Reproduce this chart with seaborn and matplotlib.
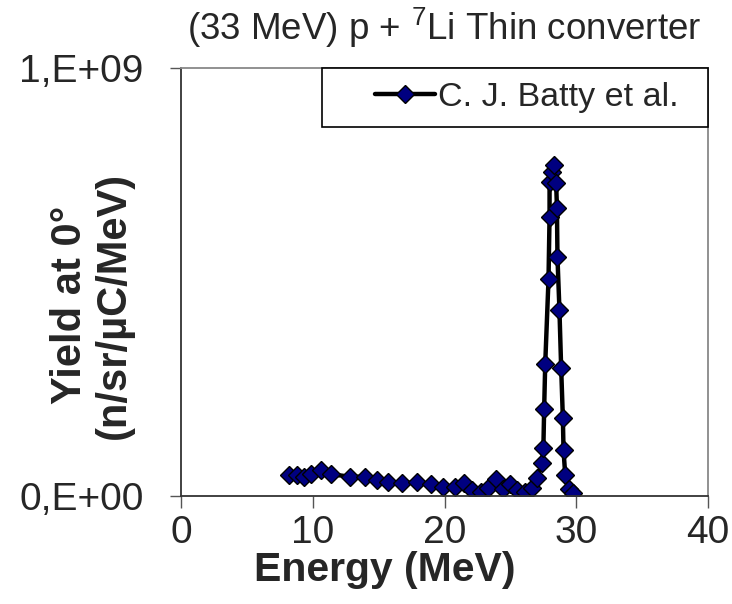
import numpy as np
import pandas as pd
import seaborn as sns
import matplotlib.pyplot as plt
from matplotlib.patches import Rectangle

# neutron yield (MeV, n/sr/uC/MeV)
energy = [8.2, 8.8, 9.3, 9.9, 10.6, 11.4, 12.8, 14.0, 14.9, 15.7,
          16.8, 17.9, 19.0, 19.9, 20.8, 21.5, 22.1, 22.8, 23.3, 23.9,
          24.4, 25.0, 25.5, 26.1, 26.6, 27.0, 27.4, 27.5, 27.56, 27.64,
          27.89, 27.97, 27.97, 28.15, 28.27, 28.47, 28.53, 28.57, 28.72, 28.85,
          28.98, 29.03, 29.16, 29.41, 29.74]
yield_1e7 = [4.9, 4.9, 4.5, 5.1, 6.1, 5.1, 4.5, 4.5, 3.7, 3.2,
             3.0, 3.2, 2.8, 2.2, 2.0, 3.0, 1.4, 1.0, 1.8, 3.9,
             1.6, 2.7, 1.4, 1.0, 1.8, 4.1, 7.6, 11.1, 20.3, 30.8,
             50.6, 65.3, 73.4, 75.6, 77.3, 73.1, 67.4, 55.8, 43.5, 30.0,
             18.2, 10.7, 4.9, 1.6, 0.6]
series_name = 'C. J. Batty et al.'
xticks = [0, 10, 20, 30, 40]
yticks = [0, 1e9]
ytick_labels = ['0,E+00', '1,E+09']

df = pd.DataFrame({'E': energy, 'Y': np.array(yield_1e7) * 1e7})

sns.set_style('ticks')
plt.rcParams['font.family'] = ['Liberation Sans', 'DejaVu Sans']
plt.rcParams['mathtext.fontset'] = 'custom'
plt.rcParams['mathtext.rm'] = 'Liberation Sans'
plt.rcParams['mathtext.default'] = 'rm'

fig = plt.figure(figsize=(7.32, 6.04), dpi=100)
ax = fig.add_axes([0.2473, 0.1788, 0.720, 0.7086])

sns.lineplot(data=df, x='E', y='Y', sort=False, estimator=None, ax=ax,
             color='black', linewidth=3.2, marker='D', markersize=9,
             markerfacecolor='#000080', markeredgecolor='black',
             markeredgewidth=1, label=series_name)

ax.set_xlim(0, 40)
ax.set_ylim(0, 1e9)
ax.set_xticks(xticks)
ax.set_yticks(yticks)
ax.set_yticklabels(ytick_labels)
ax.tick_params(axis='x', labelsize=28, length=8.5, width=1, pad=5, color='#555555')
ax.tick_params(axis='y', labelsize=28, length=8, width=1, pad=19, color='#555555')

for s in ['left', 'bottom']:
    ax.spines[s].set_color('#333333')
    ax.spines[s].set_linewidth(1.3)
for s in ['top', 'right']:
    ax.spines[s].set_color('#888888')
    ax.spines[s].set_linewidth(1.3)

ax.set_title('(33 MeV) p + $^{7}$Li Thin converter', fontsize=26.5, pad=20)
ax.set_xlabel('Energy (MeV)', fontsize=29.5, fontweight='bold', va='center')
ax.xaxis.set_label_coords(0.387, -0.173)
ax.set_ylabel('Yield at 0°\n(n/sr/µC/MeV)', fontsize=30, fontweight='bold',
              va='center', ha='center', multialignment='center', linespacing=1.1)
ax.yaxis.set_label_coords(-0.169, 0.446)

# legend box (Excel style, hugging the top right corner)
ax.add_patch(Rectangle((0.2676, 0.862), 0.7324, 0.138, transform=ax.transAxes,
                       facecolor='white', edgecolor='black', linewidth=1.2,
                       clip_on=False, zorder=5))
leg = ax.legend(loc='center left', bbox_to_anchor=(0.368, 0.932), frameon=False,
                fontsize=24.5, borderpad=0, borderaxespad=0, handlelength=1.75,
                handletextpad=0.1, numpoints=1)
leg.set_zorder(6)

fig.savefig('out.png', dpi=100)
